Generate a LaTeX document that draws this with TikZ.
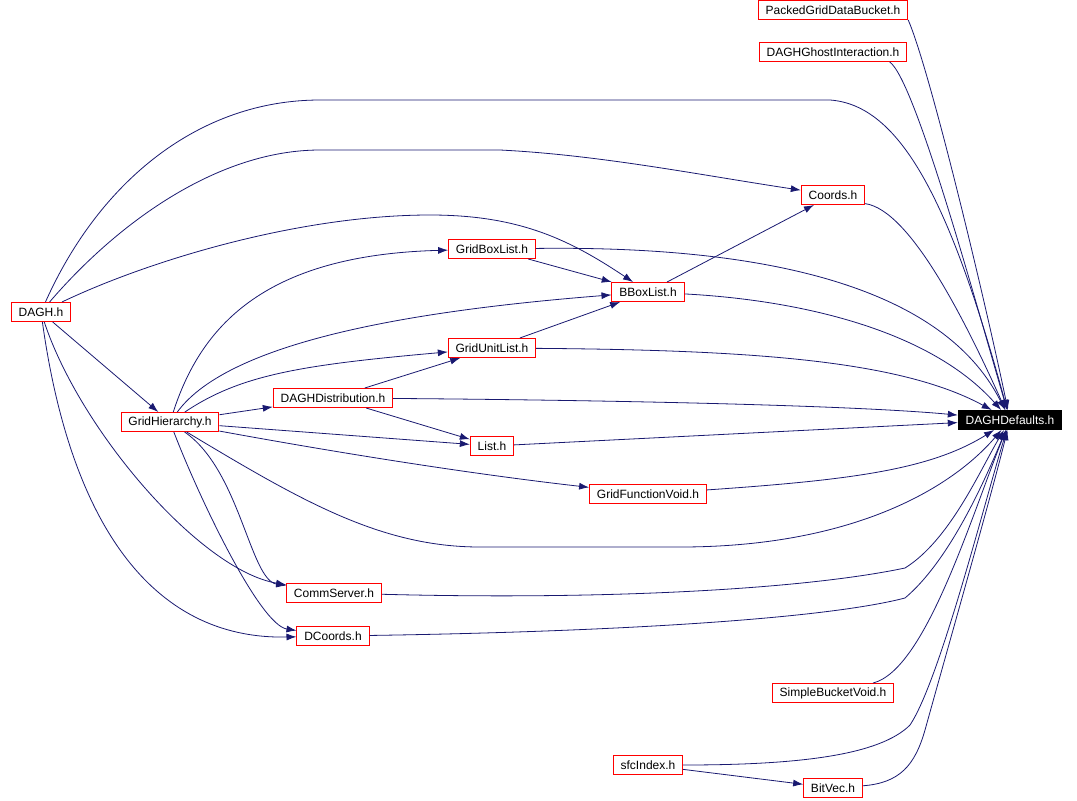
\documentclass[tikz,border=0pt]{standalone}
\usepackage{fontspec}
\setmainfont{Liberation Sans}
\usetikzlibrary{arrows.meta,positioning}
\definecolor{depblue}{RGB}{25,25,112}

\begin{document}
\begin{tikzpicture}[
    x=0.75pt,y=-0.75pt,
    hfile/.style={rectangle,draw=red,fill=white,line width=0.75pt,minimum height=14.25pt,inner xsep=5.5pt,inner ysep=0pt,font=\fontsize{9}{10}\selectfont},
    rootfile/.style={hfile,draw=black,fill=black,text=white},
    dep/.style={-{Latex[length=7.5pt,width=5.25pt]},draw=depblue,line width=0.6pt}
]
\useasboundingbox (0,0) rectangle (1077,800);

% header files
\node[hfile] (PGDB)  at (833,10)  {PackedGridDataBucket.h};
\node[hfile] (DGI)   at (833,52)  {DAGHGhostInteraction.h};
\node[hfile] (Crd)   at (833,195) {Coords.h};
\node[hfile] (DAGH)  at (41,312)  {DAGH.h};
\node[hfile] (GBL)   at (492,249) {GridBoxList.h};
\node[hfile] (BBL)   at (648,292) {BBoxList.h};
\node[hfile] (GUL)   at (492,348) {GridUnitList.h};
\node[hfile] (DDist) at (333,398) {DAGHDistribution.h};
\node[hfile] (GH)    at (170,422) {GridHierarchy.h};
\node[rootfile] (DD) at (1010,420) {DAGHDefaults.h};
\node[hfile] (Lst)   at (492,446) {List.h};
\node[hfile] (GFV)   at (648,494) {GridFunctionVoid.h};
\node[hfile] (CS)    at (334,593) {CommServer.h};
\node[hfile] (DC)    at (333,636) {DCoords.h};
\node[hfile] (SBV)   at (833,693) {SimpleBucketVoid.h};
\node[hfile] (sfc)   at (648,765) {sfcIndex.h};
\node[hfile] (BV)    at (833,788) {BitVec.h};

% includes
\draw[dep] (PGDB.south east) .. controls (930,70) and (985,300) .. (DD);
\draw[dep] (DGI.-10) .. controls (915,80) and (975,300) .. (DD);
\draw[dep] (Crd.-15) .. controls (910,210) and (965,320) .. (DD);
\draw[dep] (DAGH) .. controls (100,180) and (200,100) .. (320,100) -- (830,100) .. controls (900,105) and (950,200) .. (DD);
\draw[dep] (DAGH) .. controls (120,220) and (220,150) .. (320,150) -- (500,150) .. controls (600,155) and (700,175) .. (Crd);
\draw[dep] (DAGH) .. controls (150,260) and (300,215) .. (430,215) .. controls (520,215) and (570,240) .. (BBL);
\draw[dep] (DAGH) -- (GH);
\draw[dep] (DAGH) .. controls (80,430) and (200,570) .. (CS);
\draw[dep] (DAGH) .. controls (70,520) and (150,640) .. (DC);
\draw[dep] (GBL) .. controls (800,245) and (950,300) .. (DD);
\draw[dep] (GBL) -- (BBL);
\draw[dep] (BBL) -- (Crd);
\draw[dep] (BBL) .. controls (800,300) and (930,330) .. (DD);
\draw[dep] (GUL) -- (BBL);
\draw[dep] (GUL) .. controls (750,350) and (900,360) .. (DD);
\draw[dep] (GH) .. controls (200,330) and (260,255) .. (GBL);
\draw[dep] (GH) .. controls (230,340) and (420,310) .. (BBL);
\draw[dep] (GH) .. controls (240,375) and (300,365) .. (GUL);
\draw[dep] (GH) -- (DDist);
\draw[dep] (GH) -- (Lst);
\draw[dep] (GH) .. controls (350,455) and (480,475) .. (GFV);
\draw[dep] (GH) .. controls (300,500) and (380,547) .. (480,547) -- (680,547) .. controls (850,547) and (950,490) .. (DD);
\draw[dep] (GH) .. controls (240,470) and (250,580) .. (CS);
\draw[dep] (GH) .. controls (200,500) and (260,625) .. (DC);
\draw[dep] (DDist) -- (GUL);
\draw[dep] (DDist) -- (Lst);
\draw[dep] (DDist) .. controls (600,400) and (850,405) .. (DD);
\draw[dep] (Lst) -- (DD);
\draw[dep] (GFV) .. controls (850,480) and (930,470) .. (DD);
\draw[dep] (CS) .. controls (600,600) and (800,590) .. (905,568) .. controls (950,540) and (980,470) .. (DD);
\draw[dep] (DC) .. controls (600,632) and (820,620) .. (905,598) .. controls (950,560) and (985,480) .. (DD);
\draw[dep] (SBV) .. controls (925,670) and (970,520) .. (DD);
\draw[dep] (sfc) .. controls (800,765) and (880,755) .. (910,725) .. controls (940,680) and (985,500) .. (DD);
\draw[dep] (sfc) -- (BV);
\draw[dep] (BV) .. controls (900,783) and (915,765) .. (925,730) .. controls (950,640) and (990,500) .. (DD);

\end{tikzpicture}
\end{document}
